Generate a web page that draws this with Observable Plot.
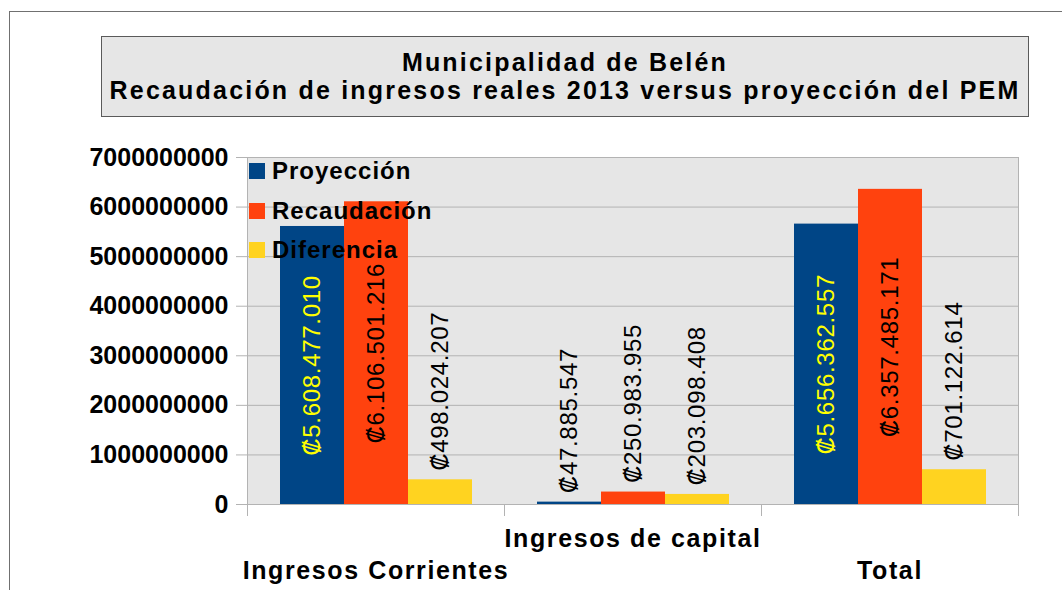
<!DOCTYPE html>
<html><head><meta charset="utf-8">
<script src="https://cdn.jsdelivr.net/npm/d3@7"></script>
<script src="https://cdn.jsdelivr.net/npm/@observablehq/plot@0.6"></script>
<style>
body{margin:0;background:#fff;font-family:"Liberation Sans",Arial,sans-serif;}
#wrap{position:relative;width:1062px;height:590px;overflow:hidden;}
#outer{position:absolute;left:9px;top:11px;width:1100px;height:700px;border-left:1px solid #707070;border-top:1px solid #707070;}
#title{position:absolute;left:101px;top:36px;width:926px;height:79px;background:#e6e6e6;border:1px solid #5a5a5a;text-align:center;font-weight:bold;font-size:25px;letter-spacing:2.2px;line-height:28px;box-sizing:content-box;white-space:nowrap;}
#title div:first-child{margin-top:11px;}
#chart{position:absolute;left:0;top:0;}
#legend{position:absolute;left:0;top:0;}
.li{position:absolute;font-weight:bold;font-size:24px;letter-spacing:1px;line-height:24px;white-space:nowrap;}
.sw{position:absolute;width:16px;height:16px;}
</style>
</head><body>
<div id="wrap">
  <div id="outer"></div>
  <div id="title"><div>Municipalidad de Belén</div><div>Recaudación de ingresos reales 2013 versus proyección del PEM</div></div>
  <div id="chart"></div>
  <div id="legend"></div>
</div>
<script>
const categories = ["Ingresos Corrientes", "Ingresos de capital", "Total"];
const seriesNames = ["Proyección", "Recaudación", "Diferencia"];
const proyeccion = [5608477010, 47885547, 5656362557];
const recaudacion = [6106501216, 250983955, 6357485171];
const diferencia = [498024207, 203098408, 701122614];
const yTicks = [0, 1000000000, 2000000000, 3000000000, 4000000000, 5000000000, 6000000000, 7000000000];
const colors = ["#004586", "#ff420e", "#ffd320"];

const seriesValues = [proyeccion, recaudacion, diferencia];
const data = categories.flatMap((c, i) => seriesNames.map((s, j) => ({cat: c, series: s, value: seriesValues[j][i]})));

const fmt = v => "\u20A1" + d3.format(",")(v).replace(/,/g, ".");
const inside = d => d.value > 4e9;
const font = "'Liberation Sans', Arial, sans-serif";

const chart = Plot.plot({
  width: 1062, height: 590,
  marginLeft: 246, marginRight: 43, marginTop: 157, marginBottom: 86,
  style: {fontFamily: font, background: "transparent", overflow: "visible"},
  fx: {domain: categories, padding: 0, axis: null},
  x: {domain: seriesNames, paddingInner: 0, paddingOuter: 0.5, axis: null},
  y: {domain: [0, 7e9]},
  color: {domain: seriesNames, range: colors},
  marks: [
    Plot.frame({fill: "#e6e6e6", shapeRendering: "crispEdges"}),
    Plot.gridY(yTicks, {stroke: "#b3b3b3", strokeOpacity: 1}),
    Plot.frame({anchor: "left", facetAnchor: "left", stroke: "#b3b3b3", insetBottom: -11}),
    Plot.frame({anchor: "right", facetAnchor: "right", stroke: "#b3b3b3", insetBottom: -11}),
    Plot.frame({anchor: "left", stroke: "#b3b3b3", insetTop: 347, insetBottom: -11}),
    Plot.axisY(yTicks, {tickSize: 11, tickPadding: 8, stroke: "#b3b3b3", fill: "black", fontSize: 25, fontWeight: "bold", tickFormat: d => String(d), label: null}),
    Plot.barY(data, {fx: "cat", x: "series", y: "value", fill: "series"}),
    Plot.text(data.filter(d => inside(d) && d.series === seriesNames[0]), {fx: "cat", x: "series", y: d => d.value / 2, text: d => fmt(d.value), rotate: -90, fill: "#ffff00", fontSize: 24}),
    Plot.text(data.filter(d => inside(d) && d.series !== seriesNames[0]), {fx: "cat", x: "series", y: d => d.value / 2, text: d => fmt(d.value), rotate: -90, fill: "black", fontSize: 24}),
    Plot.text(data.filter(d => !inside(d)), {fx: "cat", x: "series", y: "value", text: d => fmt(d.value), rotate: -90, textAnchor: "start", dy: -9, fill: "black", fontSize: 24}),
    Plot.text(categories.filter((c, i) => i % 2 === 0), {fx: d => d, text: d => d, frameAnchor: "bottom", dy: 74, fontSize: 25, fontWeight: "bold", fill: "black"}),
    Plot.text(categories.filter((c, i) => i % 2 === 1), {fx: d => d, text: d => d, frameAnchor: "bottom", dy: 42, fontSize: 25, fontWeight: "bold", fill: "black"})
  ]
});
document.getElementById("chart").appendChild(chart);

const svg = d3.select(chart);
svg.selectAll("text").filter(function() { return this.textContent.startsWith("\u20A1"); }).style("letter-spacing", "0.7px");
svg.selectAll("text").filter(function() { return categories.includes(this.textContent); }).style("letter-spacing", "1.6px");

const legend = document.getElementById("legend");
const rowTops = [159, 199, 238];
seriesNames.forEach((s, i) => {
  const sw = document.createElement("div");
  sw.className = "sw";
  sw.style.left = "249px";
  sw.style.top = (rowTops[i] + 4) + "px";
  sw.style.background = colors[i];
  legend.appendChild(sw);
  const t = document.createElement("div");
  t.className = "li";
  t.style.left = "272px";
  t.style.top = rowTops[i] + "px";
  t.textContent = s;
  legend.appendChild(t);
});
</script>
</body></html>
